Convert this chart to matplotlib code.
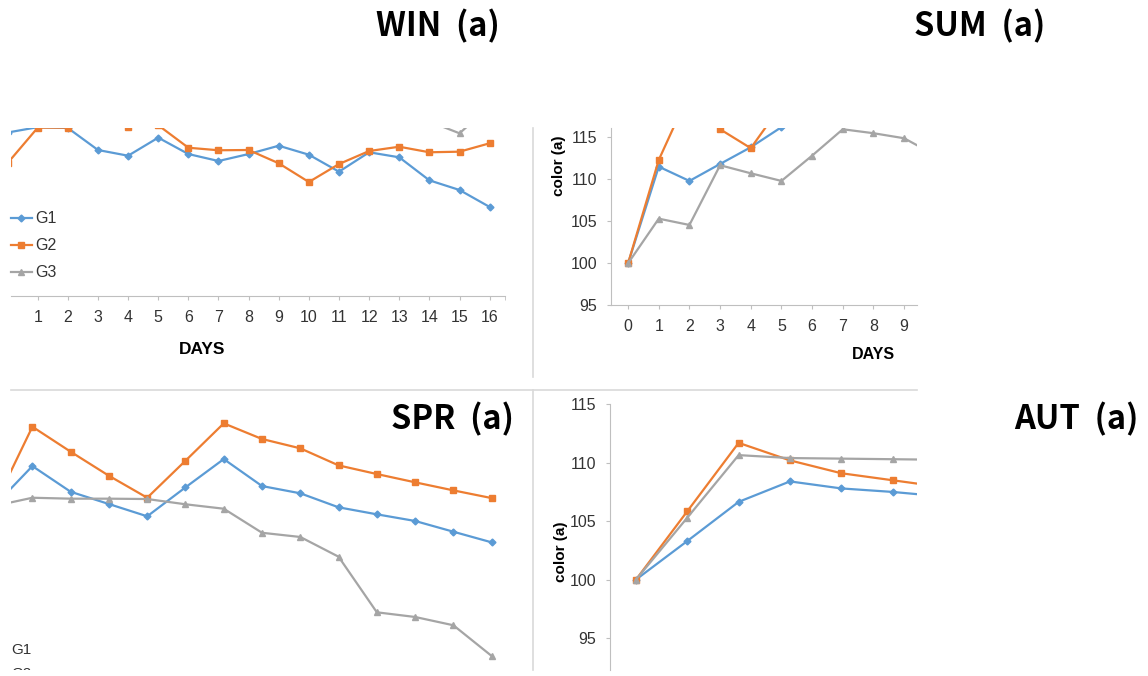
import matplotlib.pyplot as plt
import numpy as np
from matplotlib.lines import Line2D

W, H = 1148, 676

# Excel default colours for the three groups
BLUE = "#5b9bd5"
ORANGE = "#ed7d31"
GRAY = "#a5a5a5"
AXIS = "#bfbfbf"
FRAME = "#d9d9d9"
TEXT = "#333333"

nan = np.nan
groups = ["G1", "G2", "G3"]

# WIN (a): days 0..16
win_days = list(range(17))
win_g1 = [114.46, 115.10, 115.00, 112.38, 111.70, 113.85, 111.90, 111.07, 111.90,
          112.89, 111.82, 109.80, 112.11, 111.51, 108.77, 107.62, 105.60]
win_g2 = [110.82, 115.04, 115.04, nan, 115.15, 115.33, 112.65, 112.35, 112.38,
          110.80, 108.57, 110.71, 112.26, 112.77, 112.11, 112.18, 113.18]
win_g3 = [nan, nan, nan, nan, nan, nan, nan, nan, nan,
          nan, nan, nan, nan, nan, 115.77, 114.37, 117.55]

# SUM (a): days 0..10
sum_days = list(range(11))
sum_g1 = [100, 111.5, 109.8, 111.82, 113.81, 116.2, nan, nan, nan, nan, nan]
sum_g2 = [100, 112.3, 120.3, 115.95, 113.7, 118.8, nan, nan, nan, nan, nan]
sum_g3 = [100, 105.31, 104.56, 111.67, 110.71, 109.8, 112.81, 115.95, 115.48, 114.88, 112.9]

# SPR (a): days 0..13
spr_days = list(range(14))
spr_g1 = [100, 103.42, 101.22, 100.17, 99.12, 101.60, 104.02, 101.71, 101.09,
          99.89, 99.29, 98.72, 97.80, 96.89]
spr_g2 = [100, 106.79, 104.65, 102.59, 100.71, 103.88, 107.08, 105.74, 104.94,
          103.48, 102.74, 102.03, 101.34, 100.68]
spr_g3 = [100, 100.71, 100.63, 100.63, 100.60, 100.15, 99.77, 97.71, 97.35,
          95.66, 90.90, 90.50, 89.79, 87.16]

# AUT (a): days 0..6
aut_days = list(range(7))
aut_g1 = [100, 103.3, 106.65, 108.4, 107.8, 107.5, 107.1]
aut_g2 = [100, 105.85, 111.7, 110.2, 109.1, 108.5, 107.9]
aut_g3 = [100, 105.3, 110.65, 110.4, 110.35, 110.3, 110.25]

y_ticks = [95, 100, 105, 110, 115]

STYLES = [
    dict(color=BLUE, marker="D", markersize=3.5),
    dict(color=ORANGE, marker="s", markersize=5),
    dict(color=GRAY, marker="^", markersize=5),
]

plt.rcParams["font.family"] = ["Liberation Sans", "DejaVu Sans"]


def px_axes(fig, left, top, right, bottom):
    """Add an axes given its box in pixel coordinates (origin top-left)."""
    ax = fig.add_axes([left / W, 1 - bottom / H, (right - left) / W, (bottom - top) / H])
    ax.set_facecolor("none")
    for side in ["top", "right", "left", "bottom"]:
        ax.spines[side].set_visible(False)
        ax.spines[side].set_color(AXIS)
    ax.tick_params(colors=AXIS, labelcolor=TEXT, labelsize=11.5, direction="out",
                   length=3, width=0.8)
    ax.set_xticks([])
    ax.set_yticks([])
    return ax


def draw_series(ax, days, series):
    lines = []
    for values, style, name in zip(series, STYLES, groups):
        (ln,) = ax.plot(days, values, linewidth=1.6, label=name, **style)
        lines.append(ln)
    return lines


def fig_text(fig, x, y, s, **kw):
    fig.text(x / W, 1 - y / H, s, **kw)


fig = plt.figure(figsize=(W / 100, H / 100), dpi=100)

# ---- WIN (a)
ax_win = px_axes(fig, 11, 128, 505, 296)
win_lines = draw_series(ax_win, win_days, [win_g1, win_g2, win_g3])
ax_win.set_xlim(0.113, 16.51)
ax_win.set_ylim(95, 115.0)
ax_win.spines["bottom"].set_visible(True)
ax_win.set_xticks(win_days[1:])
ax_win.set_xticks([16.5], minor=True)
ax_win.tick_params(axis="x", which="both", length=3, pad=7, colors=AXIS, labelcolor=TEXT)
ax_win.legend(win_lines, groups, loc="center left", bbox_to_anchor=(11 / W, 1 - 245.7 / H),
              bbox_transform=fig.transFigure, frameon=False, fontsize=11.5,
              handlelength=1.3, handletextpad=0.2, labelspacing=0.75,
              borderpad=0, borderaxespad=0, labelcolor=TEXT)
fig_text(fig, 202, 349, "DAYS", fontsize=12.5, fontweight="bold", color="black",
         ha="center", va="center")

# ---- SUM (a)
ax_sum = px_axes(fig, 611, 128, 916.7, 305.3)
draw_series(ax_sum, sum_days, [sum_g1, sum_g2, sum_g3])
ax_sum.set_xlim(-0.557, 9.41)
ax_sum.set_ylim(95, 116.1)
ax_sum.spines["bottom"].set_visible(True)
ax_sum.spines["left"].set_visible(True)
ax_sum.set_xticks(sum_days[:10])
ax_sum.set_yticks(y_ticks)
ax_sum.tick_params(axis="x", pad=7)
ax_sum.tick_params(axis="y", pad=7)
fig_text(fig, 873.3, 354.3, "DAYS", fontsize=11.5, fontweight="bold", color="black",
         ha="center", va="center")
fig_text(fig, 559.3, 166, "color (a)", fontsize=11, fontweight="bold", color="black",
         ha="center", va="center", rotation=90)

# ---- SPR (a)
ax_spr = px_axes(fig, 11, 391, 533, 670)
draw_series(ax_spr, spr_days, [spr_g1, spr_g2, spr_g3])
ax_spr.set_xlim(0.441, 14.08)
ax_spr.set_ylim(85.96, 109.85)
ax_spr.text(0.001, (670 - 650) / 279, "G1", transform=ax_spr.transAxes, fontsize=11,
            color=TEXT, va="center", ha="left", clip_on=True)
# second legend entry is cut by the bottom edge of the pasted panel
ax_spr.text(0.001, (670 - 673.5) / 279, "G2", transform=ax_spr.transAxes, fontsize=11,
            color=TEXT, va="center", ha="left", clip_on=True)

# ---- AUT (a)
ax_aut = px_axes(fig, 610, 404.3, 916.7, 670)
draw_series(ax_aut, aut_days, [aut_g1, aut_g2, aut_g3])
ax_aut.set_xlim(-0.507, 5.47)
ax_aut.set_ylim(92.26, 115)
ax_aut.spines["left"].set_visible(True)
ax_aut.set_yticks(y_ticks)
ax_aut.tick_params(axis="y", pad=7)
fig_text(fig, 560.7, 552, "color (a)", fontsize=11, fontweight="bold", color="black",
         ha="center", va="center", rotation=90)

# chart-area borders of the pasted panels
for xs, ys in [([533, 533], [128, 377]), ([11, 917], [390, 390]), ([533, 533], [390, 670])]:
    fig.add_artist(Line2D([x / W for x in xs], [1 - y / H for y in ys],
                          color=FRAME, linewidth=1.2))

# panel titles
title_kw = dict(fontsize=23.5, fontweight="bold", color="black", ha="left", va="center",
                family=["Noto Sans CJK KR", "DejaVu Sans"])
fig_text(fig, 376, 26, "WIN  (a)", **title_kw)
fig_text(fig, 914, 26, "SUM  (a)", **title_kw)
fig_text(fig, 391, 419, "SPR  (a)", **title_kw)
fig_text(fig, 1014, 419, "AUT  (a)", **title_kw)

fig.savefig("out.png", dpi=100)
